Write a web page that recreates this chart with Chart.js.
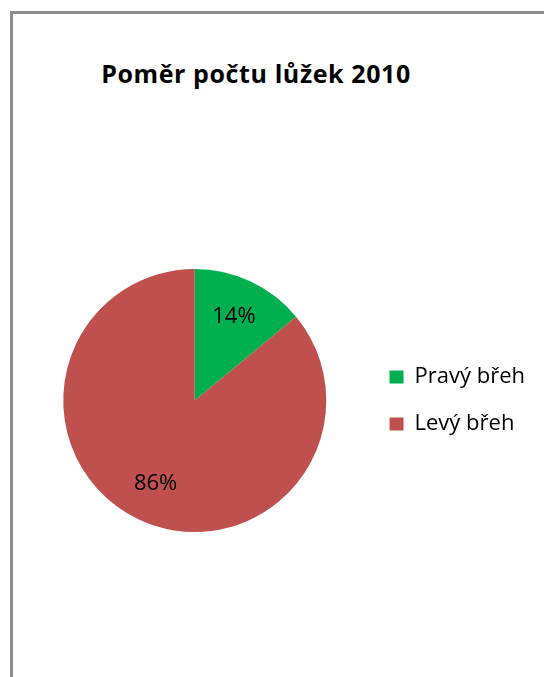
<!DOCTYPE html>
<html>
<head>
<meta charset="utf-8">
<script src="https://cdn.jsdelivr.net/npm/chart.js@4.4.0/dist/chart.umd.min.js"></script>
<style>
    html, body { margin: 0; padding: 0; background: #fff; }
    body { width: 544px; height: 677px; position: relative; overflow: hidden; }
    #frame {
        position: absolute; left: 10px; top: 11px; width: 600px; height: 700px;
        border-left: 3px solid #8c8c8c; border-top: 3px solid #8c8c8c;
    }
    #title {
        position: absolute; left: 0; top: 59px; width: 512px;
        text-align: center; font: bold 25px 'Open Sans'; line-height: 28px;
        letter-spacing: 0.6px; color: #000;
    }
    #wrap { position: absolute; left: 0; top: 0; width: 544px; height: 677px; }
</style>
</head>
<body>
<div id="frame"></div>
<div id="title"></div>
<div id="wrap"><canvas id="myChart"></canvas></div>
<script>
var chartTitle = 'Poměr počtu lůžek 2010';
var categories = ['Pravý břeh', 'Levý břeh'];
var values = [14, 86];
var sliceColors = ['#00B050', '#C0504D'];

document.getElementById('title').textContent = chartTitle;

// popisky procent uvnitř výsečí
var pieLabels = {
    id: 'pieLabels',
    afterDatasetsDraw: function(chart) {
        var ctx = chart.ctx;
        var meta = chart.getDatasetMeta(0);
        var total = values.reduce(function(a, b) { return a + b; }, 0);
        ctx.save();
        ctx.font = '22px "Open Sans"';
        ctx.fillStyle = '#000';
        ctx.textAlign = 'center';
        ctx.textBaseline = 'middle';
        meta.data.forEach(function(arc, i) {
            var p = arc.getProps(['x', 'y', 'startAngle', 'endAngle', 'outerRadius'], true);
            var mid = (p.startAngle + p.endAngle) / 2;
            var r = p.outerRadius * 0.7;
            var pct = Math.round(values[i] / total * 100) + '%';
            ctx.fillText(pct, p.x + Math.cos(mid) * r, p.y + Math.sin(mid) * r);
        });
        ctx.restore();
    }
};

var ctx = document.getElementById('myChart').getContext('2d');
var chart = new Chart(ctx, {
    type: 'pie',
    data: {
        labels: categories,
        datasets: [{
            data: values,
            backgroundColor: sliceColors,
            borderWidth: 0
        }]
    },
    options: {
        responsive: true,
        maintainAspectRatio: false,
        animation: false,
        layout: {
            padding: { left: 25, right: 9, top: 269, bottom: 145 }
        },
        plugins: {
            title: { display: false },
            legend: {
                position: 'right',
                fullSize: false,
                labels: {
                    color: '#000',
                    font: { family: 'Open Sans', size: 22 },
                    boxWidth: 14,
                    boxHeight: 13,
                    padding: 25
                }
            },
            tooltip: { enabled: false }
        }
    },
    plugins: [pieLabels]
});
</script>
</body>
</html>
